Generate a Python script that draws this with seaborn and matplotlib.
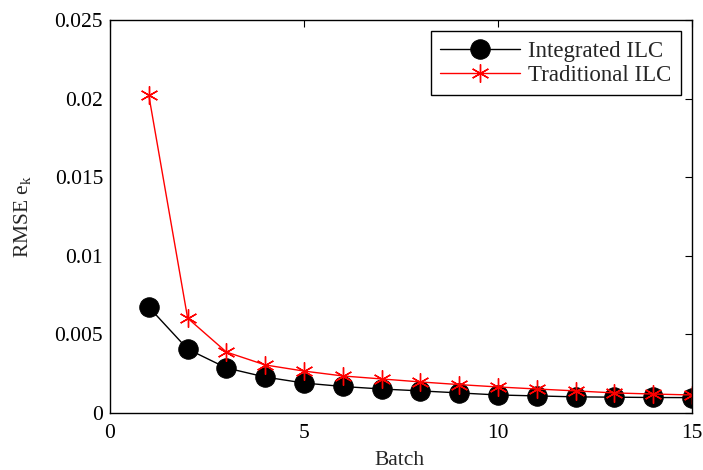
import numpy as np
import pandas as pd
import seaborn as sns
import matplotlib.pyplot as plt

sns.set_theme(style="white")
plt.rcParams.update({
    "font.family": ["Liberation Serif", "DejaVu Serif"],
    "mathtext.fontset": "custom",
    "mathtext.rm": "Liberation Serif",
    "mathtext.it": "Liberation Serif",
    "xtick.direction": "in",
    "ytick.direction": "in",
    "xtick.top": True,
    "ytick.right": True,
    "axes.linewidth": 1.0,
})

# data
batch = list(range(1, 16))
integrated = [0.00673, 0.00406, 0.00286, 0.00228, 0.00190, 0.00168, 0.00152, 0.00140,
              0.00127, 0.00114, 0.00108, 0.00102, 0.00100, 0.00098, 0.00097]
traditional = [0.0202, 0.00603, 0.00387, 0.00305, 0.00266, 0.00235, 0.00216, 0.00197,
               0.00180, 0.00165, 0.00152, 0.00140, 0.00127, 0.00120, 0.00114]

df = pd.DataFrame({
    "Batch": batch * 2,
    "RMSE": integrated + traditional,
    "Method": ["Integrated ILC"] * 15 + ["Traditional ILC"] * 15,
})

fig = plt.figure(figsize=(7.03, 4.70), dpi=100)
ax = fig.add_axes([0.1565, 0.1215, 0.828, 0.836])

sns.lineplot(data=df[df.Method == "Integrated ILC"], x="Batch", y="RMSE",
             color="black", linewidth=1.0, marker="o", markersize=14,
             markeredgecolor="black", markerfacecolor="black",
             label="Integrated ILC", ax=ax)
sns.lineplot(data=df[df.Method == "Traditional ILC"], x="Batch", y="RMSE",
             color="red", linewidth=1.0, marker=(6, 2, 0), markersize=13,
             markeredgecolor="red", markeredgewidth=1.0,
             label="Traditional ILC", ax=ax)

ax.set_xlim(0, 15)
ax.set_ylim(0, 0.025)
ax.set_xticks([0, 5, 10, 15])
ax.set_yticks([0, 0.005, 0.01, 0.015, 0.02, 0.025])
ax.set_yticklabels(["0", "0.005", "0.01", "0.015", "0.02", "0.025"])
ax.tick_params(labelsize=15.5, length=5, width=0.8, colors="black")
ax.tick_params(axis="x", pad=8)
ax.tick_params(axis="y", pad=5)
ax.set_xlabel("Batch", fontsize=15.5)
ax.set_ylabel(r"RMSE e$_{\rm k}$", fontsize=15.5)
ax.xaxis.set_label_coords(0.497, -0.096)
ax.yaxis.set_label_coords(-0.133, 0.5)
for s in ax.spines.values():
    s.set_color("black")

leg = ax.legend(loc="upper right", fontsize=16.5, frameon=True, fancybox=False,
                edgecolor="black", framealpha=1, handlelength=3.5,
                handletextpad=0.35, borderpad=0.4, labelspacing=0.15,
                borderaxespad=0.5)
leg.get_frame().set_linewidth(1.0)

fig.savefig("out.png", dpi=100)
